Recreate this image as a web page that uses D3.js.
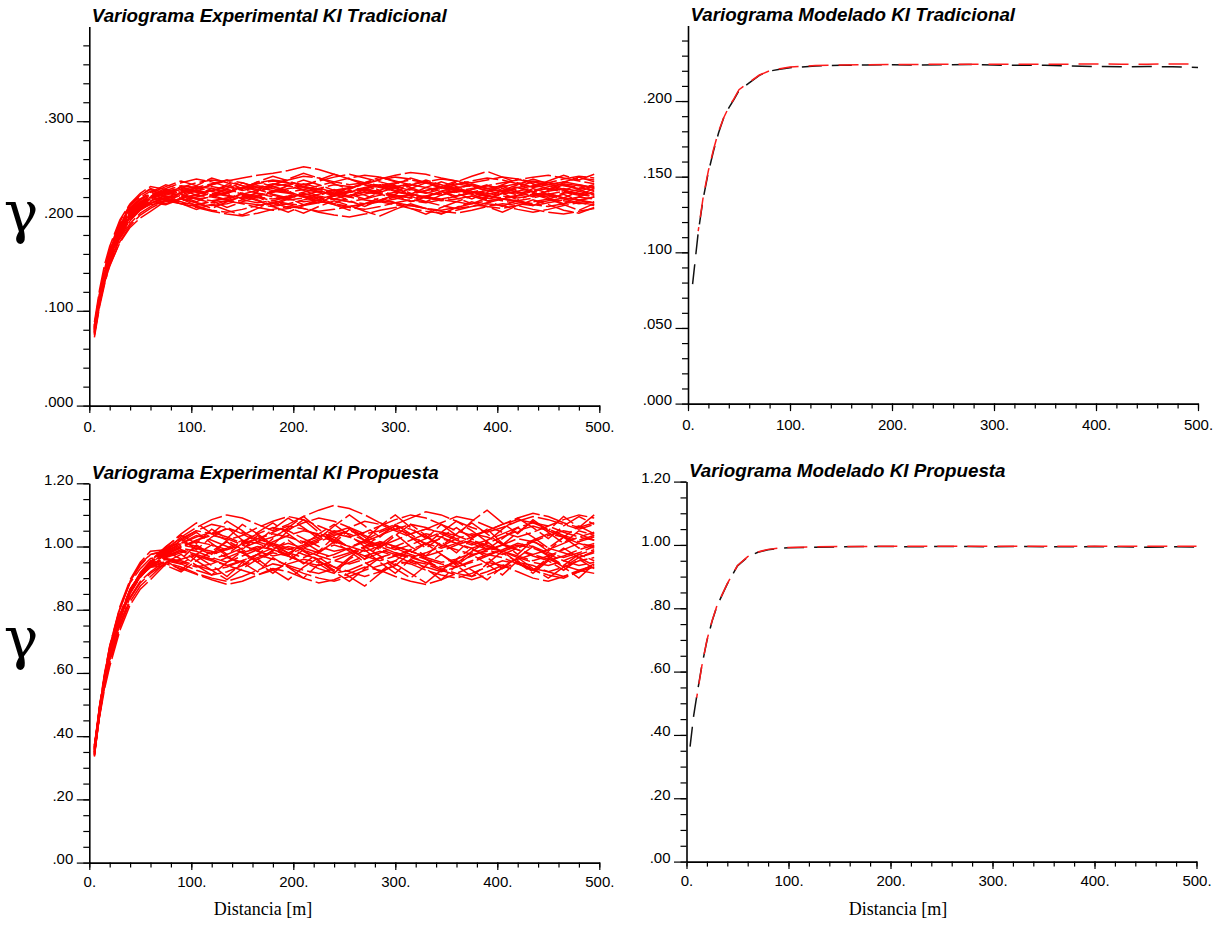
<!DOCTYPE html>
<html><head><meta charset="utf-8">
<script src="https://cdn.jsdelivr.net/npm/d3@7"></script>
<style>body{margin:0;background:#fff}svg{display:block}</style>
</head><body><svg id="c" width="1221" height="928"></svg>
<script>
// ---------- DATA ----------
// Lag distances (m) of the experimental variograms
const lagsExp = [5,10,15,20,30,40,50,60,75,90,105,120,135,150,165,180,195,210,225,240,255,270,285,300,315,330,345,360,375,390,405,420,435,450,465,480,495];

// Experimental variograms KI Tradicional (gamma x 1000), one array per realization
const expTradMilli = [
[78,110,137,157,184,201,210,216,222,226,229,231,228,224,220,218,221,225,229,233,231,227,224,222,219,221,226,230,232,229,226,224,227,231,234,232,229],
[82,115,140,160,187,204,213,219,217,214,212,215,219,222,220,216,213,211,214,218,222,225,223,219,216,214,217,221,224,222,218,215,213,216,219,217,214],
[75,108,136,160,190,208,220,226,224,230,235,238,236,232,229,233,238,242,240,236,233,235,239,243,246,244,240,237,235,238,241,239,236,233,236,240,238],
[85,113,137,152,176,192,203,210,219,215,210,206,204,207,211,214,212,208,205,207,210,213,216,214,211,208,206,209,213,216,218,215,212,210,213,216,214],
[79,112,139,158,186,203,212,218,223,227,225,221,224,229,234,237,235,231,228,226,229,234,238,241,239,235,231,228,225,223,226,230,233,229,225,222,224],
[81,113,138,156,182,200,211,218,225,222,218,220,225,230,228,223,219,222,226,224,220,217,215,218,223,227,230,228,224,221,219,222,226,229,227,223,220],
[76,110,140,163,192,210,222,228,220,224,228,233,237,240,243,245,248,252,249,244,239,235,232,230,233,236,239,237,233,229,226,228,232,235,233,230,227],
[84,109,131,148,172,188,198,205,216,213,209,205,202,200,203,207,210,208,204,201,199,202,206,209,211,208,205,203,206,210,213,211,207,204,202,205,208],
[80,111,136,157,185,203,214,221,227,232,230,226,222,219,221,225,229,231,228,224,226,230,233,231,227,224,228,233,237,240,238,234,231,235,239,242,240],
[77,109,136,155,182,199,208,214,218,216,220,224,221,217,214,216,220,223,221,218,215,213,216,220,222,219,216,218,221,219,216,213,211,214,217,220,218],
[83,114,139,159,187,205,215,222,229,235,239,236,231,227,230,234,232,228,225,222,220,223,227,231,234,236,233,229,226,224,221,219,222,226,229,226,222],
[72,104,128,149,177,195,206,213,220,218,214,211,213,217,222,226,224,220,216,212,209,207,210,214,217,215,211,208,210,214,218,221,224,222,218,214,211],
[88,122,149,168,196,213,224,231,228,225,230,234,238,235,230,227,225,228,232,236,240,243,241,237,233,230,227,225,228,232,229,225,222,220,224,228,231],
[74,106,133,153,181,198,209,216,221,219,222,220,217,214,212,210,213,217,220,218,215,218,222,225,223,220,217,215,212,210,208,211,215,218,216,213,215],
[81,116,144,165,194,212,222,229,224,228,231,229,226,230,235,238,236,233,237,241,244,240,236,232,228,225,222,226,229,232,235,238,241,243,240,237,234],
[78,111,137,157,184,201,211,217,219,222,218,214,216,220,224,222,218,215,217,221,225,228,226,222,219,221,224,227,225,221,218,216,219,223,226,224,221],
[83,115,140,158,183,199,207,212,215,218,223,227,231,228,224,220,217,219,223,227,230,233,230,226,223,220,218,221,225,229,232,230,226,223,219,217,220],
[77,110,136,156,185,203,213,220,226,223,219,216,219,223,227,231,234,230,226,223,226,229,232,235,238,235,231,227,224,227,231,234,237,235,232,229,233],
[80,107,130,147,173,190,201,208,217,213,210,212,216,213,209,206,208,212,215,213,210,212,215,212,208,205,203,206,210,213,211,207,204,207,211,214,212],
[82,114,139,160,188,205,215,221,226,229,226,222,225,229,232,229,225,221,218,221,225,228,224,220,223,227,231,234,231,227,223,226,230,233,236,233,229],
[80,113,139,159,186,204,214,220,228,224,230,226,233,229,236,231,227,234,230,224,229,235,231,226,232,238,233,228,234,229,225,231,236,232,227,233,230],
[79,111,136,156,183,200,209,214,212,218,211,216,209,215,220,213,219,212,217,223,216,210,217,222,215,220,226,219,213,219,224,217,211,218,223,216,220],
[84,117,142,161,188,206,217,224,231,237,232,240,235,229,236,242,237,231,238,244,239,233,227,234,240,235,229,236,242,247,241,235,230,237,243,238,244],
[76,107,132,151,178,196,207,214,219,213,207,212,206,201,208,214,209,203,210,216,211,205,200,207,213,208,202,209,215,210,204,211,217,212,206,203,209],
[81,112,138,158,185,202,212,219,225,220,227,222,217,224,219,226,232,227,221,228,223,218,225,230,224,219,226,221,228,233,227,222,229,224,219,226,231],
[83,116,141,162,190,207,218,225,233,228,222,229,224,218,225,231,226,220,214,221,227,222,216,223,229,235,230,224,218,225,231,226,220,227,233,228,222],
[78,109,134,153,180,197,207,213,216,222,228,223,229,235,230,225,232,238,233,227,221,228,234,229,223,230,236,231,226,220,227,233,239,234,228,222,229],
[82,114,138,157,184,200,209,215,213,219,214,208,215,221,216,210,204,211,217,212,206,213,219,214,208,202,209,215,221,216,210,217,223,218,212,206,213],
[77,110,135,155,183,201,212,219,224,231,226,233,238,232,226,233,239,245,240,234,228,235,241,236,230,224,231,237,232,226,233,239,234,228,235,241,236],
[85,118,143,163,191,208,217,223,226,221,215,222,228,223,217,211,218,224,219,213,220,226,232,227,221,215,222,228,223,217,224,230,225,219,213,220,226]
];

// Experimental variograms KI Propuesta (gamma x 1000)
const expPropMilli = [
[345,470,570,650,770,855,905,940,975,1000,1020,1035,1025,1005,985,970,980,1000,1020,1040,1030,1010,990,975,965,980,1000,1025,1040,1030,1010,990,975,990,1010,1030,1020],
[360,485,585,665,780,860,910,945,960,950,935,945,965,985,1000,990,970,950,940,955,975,995,1010,995,975,960,945,935,950,970,990,1005,995,975,955,940,950],
[335,470,585,675,800,890,940,975,985,1020,1050,1070,1060,1040,1015,1030,1055,1075,1090,1080,1060,1040,1050,1070,1090,1110,1100,1080,1060,1045,1060,1080,1095,1085,1070,1055,1070],
[370,470,560,630,745,825,875,905,950,935,915,900,890,905,925,945,935,915,900,890,905,925,940,955,945,925,910,900,915,935,955,945,925,910,900,920,935],
[350,475,575,655,775,858,910,948,980,1005,995,975,990,1015,1040,1060,1050,1025,1000,985,995,1020,1045,1065,1055,1030,1005,990,975,985,1005,1025,1015,995,980,965,980],
[355,480,578,658,772,852,902,938,970,990,975,960,975,995,1015,1000,980,965,985,1005,990,970,955,970,990,1010,1025,1010,990,975,990,1010,1000,980,965,980,1000],
[340,480,595,685,810,895,950,985,990,1030,1060,1085,1100,1090,1070,1050,1070,1095,1115,1130,1120,1100,1075,1055,1040,1055,1075,1095,1085,1065,1045,1030,1045,1065,1085,1100,1090],
[365,460,550,620,735,815,865,895,945,930,912,895,880,890,910,930,920,900,885,895,915,935,925,905,890,880,895,915,935,950,940,920,900,890,905,925,915],
[348,472,572,652,774,860,914,952,990,1015,1000,980,995,1020,1010,990,975,995,1015,1035,1050,1035,1015,1000,1020,1040,1030,1010,995,1010,1030,1050,1065,1050,1030,1015,1030],
[362,488,588,668,782,864,912,942,965,980,995,985,965,950,965,985,1000,990,970,955,945,960,980,1000,985,965,950,960,980,995,985,965,950,940,955,975,990],
[338,462,562,645,765,852,906,946,982,1010,1035,1020,1000,980,995,1015,1035,1050,1040,1020,1000,985,1000,1020,1040,1055,1045,1025,1010,990,975,995,1015,1035,1050,1040,1020],
[365,490,590,670,786,866,914,944,962,955,940,925,935,955,975,960,940,925,915,930,950,970,985,970,950,935,920,935,955,975,965,945,930,920,935,955,965],
[352,478,577,657,777,861,913,950,985,1010,1030,1045,1030,1010,1025,1045,1065,1055,1035,1015,1000,1015,1035,1055,1070,1060,1040,1020,1005,1020,1040,1060,1075,1065,1045,1030,1045],
[343,468,568,650,770,855,907,944,975,995,985,965,950,970,990,1010,995,975,960,975,995,1015,1000,980,965,950,935,950,970,990,1005,990,970,955,970,990,1005],
[358,495,600,685,805,885,930,962,972,998,1020,1040,1055,1045,1025,1005,990,1005,1025,1045,1060,1080,1070,1050,1030,1010,995,1010,1030,1050,1070,1085,1075,1055,1035,1020,1035],
[360,470,565,640,755,840,890,920,955,945,925,910,920,940,960,980,970,950,930,915,925,945,965,980,970,950,930,915,905,920,940,960,975,960,940,925,940],
[346,471,571,651,771,857,909,946,978,1000,1015,1005,990,1005,1025,1040,1030,1015,1030,1050,1040,1020,1005,990,1005,1025,1045,1035,1015,1000,985,1000,1020,1040,1030,1010,1000],
[357,482,580,660,776,858,908,942,968,985,970,955,940,955,975,995,1010,995,980,965,980,1000,1015,1000,985,970,985,1005,1020,1005,985,970,955,970,990,1010,995],
[372,475,565,640,750,835,885,915,948,960,975,960,940,925,910,925,945,960,950,935,920,905,920,940,955,945,925,910,895,910,930,950,940,920,905,920,945],
[350,490,595,680,805,890,945,975,988,1025,1050,1040,1020,1035,1060,1080,1095,1085,1065,1045,1030,1045,1065,1085,1100,1090,1070,1050,1035,1050,1070,1090,1105,1095,1075,1060,1075],
[352,480,580,662,780,862,912,948,985,960,1005,975,1020,990,1035,1000,970,1015,985,1030,995,960,1005,1040,1000,970,1015,980,1025,1055,1010,975,1020,985,1030,995,1010],
[364,486,584,664,778,858,905,936,955,925,970,940,905,950,920,965,935,900,945,915,960,990,950,915,960,930,895,940,975,945,910,955,925,965,935,900,945],
[342,468,570,652,774,862,918,955,1000,1035,1010,1055,1025,1070,1040,1005,1050,1085,1045,1010,1055,1020,1065,1100,1060,1025,1070,1035,1080,1115,1075,1040,1085,1050,1095,1060,1100],
[356,481,579,658,775,856,905,938,965,990,955,985,1015,980,950,990,1020,985,955,925,965,1000,970,940,980,1010,975,945,985,1015,980,950,920,960,995,965,985],
[349,474,574,655,776,862,915,952,995,1025,990,1030,1060,1020,985,1025,1060,1095,1055,1020,1060,1030,995,1035,1070,1035,1000,1040,1075,1040,1005,1045,1080,1045,1010,1050,1035],
[367,490,588,666,780,860,906,935,950,975,940,910,950,985,950,915,955,990,955,920,890,930,965,930,900,940,975,940,905,945,985,950,915,955,925,960,930],
[345,469,569,650,771,858,911,950,992,1015,1045,1010,975,1010,1045,1075,1040,1005,1040,1070,1035,1000,1035,1065,1030,995,1030,1060,1025,990,1025,1060,1030,995,1030,1065,1040],
[361,486,585,664,779,859,907,940,960,945,975,1005,970,940,975,1010,980,945,980,1015,985,950,920,955,990,960,925,960,995,965,930,965,1000,970,940,975,955],
[339,464,565,648,770,860,915,953,998,1040,1075,1040,1080,1050,1015,1055,1090,1060,1025,1065,1100,1065,1030,1070,1040,1005,1045,1080,1050,1015,1055,1090,1060,1025,1065,1095,1070],
[370,494,590,668,781,860,906,934,940,920,955,925,895,930,960,925,895,935,965,935,905,875,915,945,915,885,925,955,925,895,935,965,930,900,935,965,940]
];

// Modelled variograms KI Tradicional
const lagsModTrad = [4.5,10,15,20,25,30,35,40,45,50,60,70,80,90,100,125,150,175,200,225,250,275,300,325,350,375,400,425,450,475,500];
const modTradBlack = [0.079,0.113,0.136,0.153,0.167,0.179,0.189,0.1955,0.201,0.207,0.212,0.217,0.2198,0.221,0.222,0.2232,0.2236,0.2238,0.224,0.2238,0.224,0.2242,0.2238,0.2236,0.2236,0.2232,0.2228,0.2226,0.2228,0.2226,0.2222];
const modTradRed = [null,0.114,0.137,0.154,0.168,0.180,0.189,0.196,0.2015,0.2075,0.2125,0.2172,0.22,0.2213,0.2225,0.2235,0.2238,0.224,0.2242,0.2242,0.2243,0.2244,0.2244,0.2243,0.2243,0.2244,0.2245,0.2244,0.2244,0.2245,0.2245];

// Modelled variograms KI Propuesta
const lagsModProp = [3.5,7,10,15,20,25,30,40,50,60,70,80,90,100,125,150,175,200,225,250,275,300,325,350,375,400,425,450,475,500];
const modPropBlack = [0.363,0.46,0.522,0.618,0.697,0.758,0.808,0.877,0.934,0.962,0.977,0.985,0.989,0.991,0.993,0.994,0.995,0.995,0.994,0.995,0.995,0.994,0.995,0.994,0.994,0.995,0.994,0.993,0.994,0.993];
const modPropRed = [null,null,0.518,0.617,0.699,0.76,0.81,0.878,0.935,0.963,0.978,0.986,0.99,0.992,0.994,0.995,0.995,0.996,0.996,0.996,0.996,0.996,0.996,0.996,0.996,0.996,0.996,0.996,0.996,0.996];

// Ticks and labels
const xMajorTicks = [0,100,200,300,400,500];
const xMajorLabels = ["0.","100.","200.","300.","400.","500."];
const yTradExpTicks = [0,0.1,0.2,0.3];
const yTradExpLabels = [".000",".100",".200",".300"];
const yTradModTicks = [0,0.05,0.1,0.15,0.2];
const yTradModLabels = [".000",".050",".100",".150",".200"];
const yPropTicks = [0,0.2,0.4,0.6,0.8,1.0,1.2];
const yPropLabels = [".00",".20",".40",".60",".80","1.00","1.20"];
const titles = ["Variograma Experimental KI Tradicional","Variograma Modelado KI Tradicional","Variograma Experimental KI Propuesta","Variograma Modelado KI Propuesta"];

// ---------- DRAW ----------
const svg = d3.select("#c");
const FONT = "'Liberation Sans', Arial, Helvetica, sans-serif";

function panel(cfg){
  const x = d3.scaleLinear().domain([0,500]).range([cfg.x0,cfg.x1]);
  const y = d3.scaleLinear().domain([0,cfg.ymax]).range([cfg.y0,cfg.y1]);
  const g = svg.append("g");

  if (cfg.curves){
    const line = d3.line().x((d,i)=>x(cfg.lags[i])).y(d=>y(d/1000));
    g.append("g").selectAll("path").data(cfg.curves).join("path")
      .attr("d", line)
      .attr("fill","none").attr("stroke","#ff0000").attr("stroke-width",1.5)
      .attr("stroke-dasharray","26,4");
  }
  if (cfg.black){
    const line = d3.line().defined(d=>d!=null).x((d,i)=>x(cfg.lags[i])).y(d=>y(d));
    g.append("path").datum(cfg.black).attr("d",line)
      .attr("fill","none").attr("stroke","#111").attr("stroke-width",1.5)
      .attr("stroke-dasharray","20,10");
    g.append("path").datum(cfg.red).attr("d",line)
      .attr("fill","none").attr("stroke","#ff1a1a").attr("stroke-width",1.5)
      .attr("stroke-dasharray","20,10").attr("stroke-dashoffset",-14);
  }

  // y axis minor ticks
  const nMinor = Math.round(cfg.ymax / cfg.yminor);
  const yMinor = d3.range(0, nMinor + (cfg.minorTop ? 1 : 0)).map(k => k * cfg.yminor);
  g.append("g").attr("transform",`translate(${cfg.x0},0)`)
    .call(d3.axisLeft(y).tickValues(yMinor).tickSize(6).tickSizeOuter(0).tickFormat(""))
    .call(a=>a.select(".domain").attr("stroke","#000").attr("stroke-width",1.6))
    .call(a=>a.selectAll(".tick line").attr("stroke","#000").attr("stroke-width",1.2));
  const ya = g.append("g").attr("transform",`translate(${cfg.x0},0)`)
    .call(d3.axisLeft(y).tickValues(cfg.yMajor).tickSize(12.5).tickSizeOuter(0).tickPadding(3.5)
      .tickFormat((d,i)=>cfg.yLabels[i]));
  ya.select(".domain").remove();
  ya.selectAll(".tick line").attr("stroke","#000").attr("stroke-width",1.2);
  ya.selectAll(".tick text").attr("dy",1).attr("font-family",FONT).attr("font-size",15).attr("fill","#000");

  // x axis
  const xMinor = d3.range(0,501,20);
  g.append("g").attr("transform",`translate(0,${cfg.y0})`)
    .call(d3.axisBottom(x).tickValues(xMinor).tickSize(5).tickSizeOuter(0).tickFormat(""))
    .call(a=>a.select(".domain").attr("stroke","#000").attr("stroke-width",1.6))
    .call(a=>a.selectAll(".tick line").attr("stroke","#000").attr("stroke-width",1.2));
  const xa = g.append("g").attr("transform",`translate(0,${cfg.y0})`)
    .call(d3.axisBottom(x).tickValues(xMajorTicks).tickSize(7.5).tickSizeOuter(0)
      .tickFormat((d,i)=>xMajorLabels[i]));
  xa.select(".domain").remove();
  xa.selectAll(".tick line").attr("stroke","#000").attr("stroke-width",1.2);
  xa.selectAll(".tick text").attr("y",cfg.xLabelOff).attr("dy",0).attr("font-family",FONT).attr("font-size",15).attr("fill","#000");

  // title
  svg.append("text").attr("x",cfg.x0+2.5).attr("y",cfg.y1-4.5)
    .attr("font-family",FONT).attr("font-weight","bold").attr("font-style","italic")
    .attr("font-size",18.8).text(cfg.title);
}

panel({x0:89.3,x1:599.3,y0:405.6,y1:26.4,ymax:0.4,yminor:0.02,yMajor:yTradExpTicks,yLabels:yTradExpLabels,
  lags:lagsExp,curves:expTradMilli,title:titles[0],xLabelOff:26});
panel({x0:688,x1:1198,y0:403.6,y1:25.4,ymax:0.25,yminor:0.01,yMajor:yTradModTicks,yLabels:yTradModLabels,
  lags:lagsModTrad,black:modTradBlack,red:modTradRed,title:titles[1],xLabelOff:26});
panel({x0:89.3,x1:599.3,y0:862.6,y1:483.3,ymax:1.2,yminor:0.05,minorTop:true,yMajor:yPropTicks,yLabels:yPropLabels,
  lags:lagsExp,curves:expPropMilli,title:titles[2],xLabelOff:24});
panel({x0:686.5,x1:1196.5,y0:861.6,y1:481.6,ymax:1.2,yminor:0.05,minorTop:true,yMajor:yPropTicks,yLabels:yPropLabels,
  lags:lagsModProp,black:modPropBlack,red:modPropRed,title:titles[3],xLabelOff:24});

// gamma labels
const SERIF = "'DejaVu Serif', 'Liberation Serif', serif";
[232, 658].forEach(yy=>{
  svg.append("text").attr("x",21).attr("y",yy).attr("text-anchor","middle")
    .attr("font-family",SERIF).attr("font-size",58).text("γ");
});
// x titles
[[263,915],[898,915]].forEach(([xx,yy])=>{
  svg.append("text").attr("x",xx).attr("y",yy).attr("text-anchor","middle")
    .attr("font-family","'Liberation Serif', 'Times New Roman', serif").attr("font-size",18).text("Distancia [m]");
});
</script></body></html>
